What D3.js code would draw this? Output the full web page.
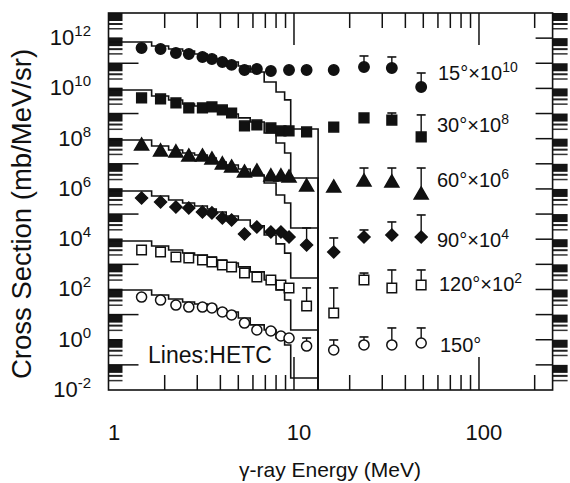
<!DOCTYPE html>
<html><head><meta charset="utf-8">
<script src="https://cdn.jsdelivr.net/npm/d3@7/dist/d3.min.js"></script>
<style>
body{margin:0;background:#fff}
svg{display:block}
text{font-family:"Liberation Sans",Arial,Helvetica,sans-serif;fill:#111}
</style>
</head><body>
<svg id="c" width="570" height="483"></svg>
<script>
// ---------------- data ----------------
const energies = [1.5,1.9,2.3,2.7,3.2,3.6,4.1,4.6,5.4,6.3,7.5,8.5,9.4,11.7,16.4,23.9,33.8,48.7];
const angleLabels = ["15°","30°","60°","90°","120°","150°"];
const scaleExps = [10,8,6,4,2,0];
// measured cross sections (mb/MeV/sr), unscaled; null = no point
const data15  = [40.6,37,25.7,23.4,17.8,14.8,11.3,8.6,5.4,5.9,4.9,null,5.4,5.4,5.4,7.1,6.5,1.14];
const data30  = [41.7,38,26.4,16.7,16.7,18.3,13.9,10.5,3.2,3.5,2.67,2.03,2.03,1.85,2.9,6.7,5.5,1.17];
const data60  = [51,29.6,27,18.7,18.7,14.2,9.0,6.8,4.3,4.7,3.0,3.0,2.73,1.2,1.09,1.89,1.73,0.575];
const data90  = [43.7,30.3,19.2,17.5,12.1,11.1,7.0,5.8,1.61,3.07,1.94,1.94,1.23,0.59,0.31,1.23,1.47,1.23];
const data120 = [37.2,31,19.6,17.9,14.9,12.4,9.4,7.9,4.5,3.15,2.39,1.51,1.15,0.22,0.116,2.39,1.15,1.51];
const data150 = [50,38,24,20,20,18.4,12.7,9.7,4.6,2.44,2.23,1.41,1.17,0.56,0.39,0.62,0.62,0.74];
// upper ends of error bars (same units), aligned with energies
const err15  = [null,null,null,null,null,null,null,null,null,null,null,null,null,null,null,19.5,17.8,4.1];
const err30  = [null,null,null,null,null,null,null,null,null,null,null,null,null,null,null,null,10.5,8.8];
const err60  = [null,null,null,null,null,null,null,null,null,null,null,null,null,null,null,6.8,6.8,6.8];
const err90  = [null,null,null,null,null,null,null,null,null,null,null,null,null,2.8,1.12,2.33,4.85,9.2];
const err120 = [null,null,null,null,null,null,null,null,null,null,null,null,null,1.15,1.15,4.5,5.97,5.97];
const err150 = [null,null,null,null,null,null,null,null,null,null,null,null,null,1.17,0.98,1.29,2.94,2.94];
// HETC histograms: bin edges (MeV) and bin contents (unscaled)
const hetcEdges = [1.0,1.7,2.1,2.5,2.9,3.4,3.8,4.3,5.0,5.8,6.9,8.0,8.9,9.6,13.5];
const hetc15  = [70.5,48.9,37.1,30.9,23.4,19.5,14.8,11.3,7.8,4.5,1.8,0.72,0.35,0.0243];
const hetc30  = [86.7,50,34.7,24,20,16.7,12.6,9.6,6.7,4.6,1.69,0.67,0.27,0.0273];
const hetc60  = [88.7,51,35.5,27,22.5,17.1,11.8,9.0,6.2,3.6,1.73,0.575,0.276,0.028];
const hetc90  = [83,52.5,36.4,27.7,21,16,12.1,8.4,5.8,3.4,1.47,0.65,0.28,0.0287];
const hetc120 = [85,53.8,37.2,28.3,23.6,19.6,14.9,11.3,7.9,5.0,2.39,0.95,0.38,0.0244];
const hetc150 = [95.5,60.4,41.9,31.8,26.5,22,16.8,12.7,7.3,3.9,2.44,1.17,0.62,0.030];
const xTickLabels = ["1","10","100"];
const yTickExps = [12,10,8,6,4,2,0,-2];

const seriesData = [data15,data30,data60,data90,data120,data150];
const seriesErr = [err15,err30,err60,err90,err120,err150];
const seriesHetc = [hetc15,hetc30,hetc60,hetc90,hetc120,hetc150];
const markerKind = ["circleF","squareF","triangleF","diamondF","squareO","circleO"];

// ---------------- chart ----------------
const svg = d3.select("#c");
const L = 108.5, R = 552.6, T = 13, B = 390;
const x = d3.scaleLog().domain([1,250]).range([109,552.6]);
const y = d3.scaleLog().domain([1e-2,1e13]).range([B,T]);

// scanned tick strips at left and right edges
const strips = svg.append("g");
[[L,14],[R,15]].forEach(([sx,w])=>{
  d3.range(-1,14).forEach(n=>{
    const yy = y(Math.pow(10,n));
    strips.append("rect").attr("x",sx).attr("y",yy).attr("width",w).attr("height",8).attr("fill","#151515");
    if (yy+16 < B) {
      strips.append("rect").attr("x",sx).attr("y",yy+10).attr("width",w).attr("height",2).attr("fill","#222");
      strips.append("rect").attr("x",sx).attr("y",yy+15).attr("width",w).attr("height",1.5).attr("fill","#333");
    }
  });
});

// frame
svg.append("rect").attr("x",L).attr("y",T).attr("width",R-L).attr("height",B-T)
  .attr("fill","none").attr("stroke","#111").attr("stroke-width",1.6);

// x ticks (inside, top & bottom)
const minorX = [2,3,4,5,6,7,8,9,20,30,40,50,60,70,80,90,200];
const majorX = [10,100];
const tg = svg.append("g").attr("stroke","#111").attr("stroke-width",1.5);
minorX.forEach(v=>{
  tg.append("line").attr("x1",x(v)).attr("x2",x(v)).attr("y1",B).attr("y2",B-15);
  tg.append("line").attr("x1",x(v)).attr("x2",x(v)).attr("y1",T).attr("y2",T+15);
});
majorX.forEach(v=>{
  tg.append("line").attr("x1",x(v)).attr("x2",x(v)).attr("y1",B).attr("y2",B-33);
  tg.append("line").attr("x1",x(v)).attr("x2",x(v)).attr("y1",T).attr("y2",T+32);
});
// y ticks
d3.range(-1,13).forEach(n=>{
  const yy = y(Math.pow(10,n));
  tg.append("line").attr("x1",R).attr("x2",R-17).attr("y1",yy).attr("y2",yy);
  const len = (Math.abs(n)%2===1) ? 30 : 14;
  tg.append("line").attr("x1",L).attr("x2",L+len).attr("y1",yy).attr("y2",yy);
});

// x tick labels
[1,10,100].forEach((v,i)=>{
  svg.append("text").attr("x",x(v)+5).attr("y",440).attr("text-anchor","middle")
    .attr("font-size",22).text(xTickLabels[i]);
});
// y tick labels
yTickExps.forEach(e=>{
  const t = svg.append("text").attr("x",91).attr("y",y(Math.pow(10,e))+7).attr("text-anchor","end").attr("font-size",22);
  t.append("tspan").text("10");
  t.append("tspan").attr("font-size",15).attr("dy",-9).text(String(e));
});

// axis titles
svg.append("text").attr("x",330).attr("y",477).attr("text-anchor","middle").attr("font-size",21)
  .text("γ-ray Energy (MeV)");
svg.append("text").attr("transform","translate(31,214) rotate(-90)").attr("text-anchor","middle")
  .attr("font-size",27.5).text("Cross Section (mb/MeV/sr)");

// HETC histograms
const line = d3.line().x(d=>x(d[0])).y(d=>y(d[1]));
seriesHetc.forEach((h,k)=>{
  const f = Math.pow(10,scaleExps[k]);
  const pts = [];
  h.forEach((v,i)=>{ pts.push([hetcEdges[i],v*f]); pts.push([hetcEdges[i+1],v*f]); });
  pts.push([hetcEdges[hetcEdges.length-1],1e-2]);
  svg.append("path").attr("d",line(pts)).attr("fill","none").attr("stroke","#111").attr("stroke-width",1.6);
});

// error bars
seriesErr.forEach((errs,k)=>{
  const f = Math.pow(10,scaleExps[k]);
  errs.forEach((e,i)=>{
    const v = seriesData[k][i];
    if (e==null || v==null) return;
    const xx = x(energies[i]);
    svg.append("line").attr("x1",xx).attr("x2",xx).attr("y1",y(v*f)).attr("y2",y(e*f)).attr("stroke","#111").attr("stroke-width",1.4);
    svg.append("line").attr("x1",xx-4.5).attr("x2",xx+4.5).attr("y1",y(e*f)).attr("y2",y(e*f)).attr("stroke","#111").attr("stroke-width",1.6);
  });
});

// markers
const sym = {
  circleF:  {t:d3.symbolCircle, s:85, fill:"#111", rot:0},
  squareF:  {t:d3.symbolSquare, s:95, fill:"#111", rot:0},
  triangleF:{t:d3.symbolTriangle, s:85, fill:"#111", rot:0},
  diamondF: {t:d3.symbolSquare, s:72, fill:"#111", rot:45},
  squareO:  {t:d3.symbolSquare, s:90, fill:"#fff", rot:0},
  circleO:  {t:d3.symbolCircle, s:80, fill:"#fff", rot:0}
};
seriesData.forEach((vals,k)=>{
  const f = Math.pow(10,scaleExps[k]);
  const m = sym[markerKind[k]];
  const gen = d3.symbol().type(m.t).size(m.s);
  vals.forEach((v,i)=>{
    if (v==null) return;
    svg.append("path").attr("d",gen())
      .attr("transform",`translate(${x(energies[i])},${y(v*f)}) rotate(${m.rot})`)
      .attr("fill",m.fill).attr("stroke","#111").attr("stroke-width",1.5);
  });
});

// series labels
const labelBase = [80,132,187,247,291,352];
const labelX = [438,437,437,437,439,440];
angleLabels.forEach((a,k)=>{
  const t = svg.append("text").attr("x",labelX[k]).attr("y",labelBase[k]).attr("font-size",20);
  if (scaleExps[k]===0) { t.text(a); return; }
  t.append("tspan").text(a+"×10");
  t.append("tspan").attr("font-size",14).attr("dy",-8).text(String(scaleExps[k]));
});

svg.append("text").attr("x",148).attr("y",363).attr("font-size",23).text("Lines:HETC");
</script>
</body></html>
